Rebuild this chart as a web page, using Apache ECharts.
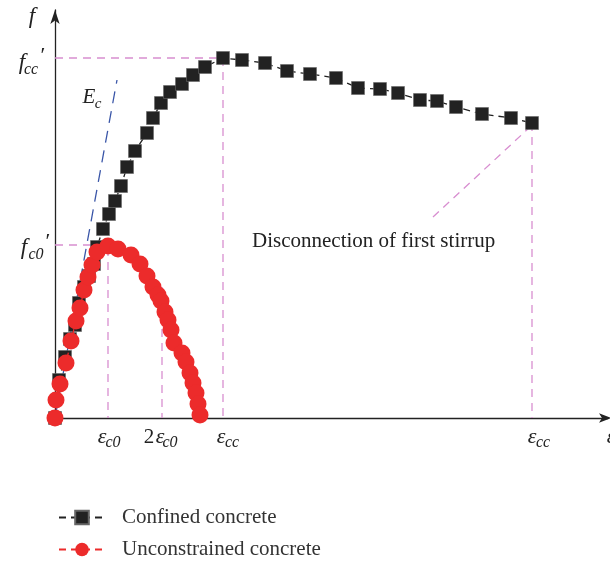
<!DOCTYPE html>
<html>
<head>
<meta charset="utf-8">
<script src="https://cdn.jsdelivr.net/npm/echarts@6/dist/echarts.min.js"></script>
<style>
html,body{margin:0;padding:0;background:#fff;}
#c{width:610px;height:563px;}
</style>
</head>
<body>
<div id="c"></div>
<script>
// Strain (x) and stress (y) in arbitrary chart units
const confinedX = [0,4,10,15,20,24,29,34,39,42,48,54,60,66,72,80,92,98,106,115,127,138,150,168,187,210,232,255,281,303,325,343,365,382,401,427,456,477];
const confinedY = [0,38,61,79,93,115,131,142,154,171,189,204,217,232,251,267,285,300,315,326,334,343,351,360,358,355,347,344,340,330,329,325,318,317,311,304,300,295];
const unconfX = [0,1,5,11,16,21,25,29,33,37,42,53,63,76,85,92,98,103,106,110,113,116,119,127,131,135,138,141,143,145];
const unconfY = [0,18,34,55,77,97,110,128,141,153,166,172,169,163,154,142,131,123,117,106,98,88,75,65,56,45,35,25,14,3];

// key points
const epsC0 = 53, fC0 = 173;
const eps2C0 = 107, fAt2C0 = 131;
const epsCC = 168, fCC = 360;
const epsCCu = 477, fCCu = 295;
const EcEnd = [62, 338];
const noteLine = [[378, 201], [475, 291]];

const seriesNames = ['Confined concrete', 'Unconstrained concrete'];

const pink = '#d88ed0';
const serif = '"Liberation Serif", "Times New Roman", serif';

function pairs(xs, ys) { return xs.map((x, i) => [x, ys[i]]); }
function guide(data, color, dash) {
  return {
    type: 'line', data: data, symbol: 'none', silent: true, z: 1,
    lineStyle: { color: color || pink, width: 1.3, type: dash || [8, 6] },
    animation: false
  };
}
function legendItem(name, top) {
  return {
    data: [name], orient: 'vertical', left: 53, top: top,
    itemWidth: 46, itemHeight: 17,
    textStyle: { fontFamily: serif, fontSize: 21, color: '#333', padding: [0, 0, 0, 12] }
  };
}

const chart = echarts.init(document.getElementById('c'), null, { renderer: 'canvas' });
chart.setOption({
  animation: false,
  backgroundColor: '#fff',
  grid: { left: 55, right: 2, top: 10, bottom: 145 },
  xAxis: {
    type: 'value', min: 0, max: 553,
    axisLine: { show: true, onZero: false, symbol: ['none', 'arrow'], symbolSize: [7, 12], symbolOffset: [0, 3],
      lineStyle: { color: '#222', width: 1.3 } },
    axisTick: { show: false }, axisLabel: { show: false }, splitLine: { show: false }
  },
  yAxis: {
    type: 'value', min: 0, max: 408,
    axisLine: { show: true, onZero: false, symbol: ['none', 'arrow'], symbolSize: [7, 14], symbolOffset: [0, 0],
      lineStyle: { color: '#222', width: 1.3 } },
    axisTick: { show: false }, axisLabel: { show: false }, splitLine: { show: false }
  },
  legend: [legendItem(seriesNames[0], 502), legendItem(seriesNames[1], 534)],
  series: [
    guide([[0, fCC], [epsCC, fCC], [epsCC, 0]]),
    guide([[0, fC0], [epsC0, fC0], [epsC0, 0]]),
    guide([[eps2C0, fAt2C0], [eps2C0, 0]]),
    guide([[epsCCu, fCCu], [epsCCu, 0]]),
    guide(noteLine),
    guide([[0, 0], EcEnd], '#3a56a8', [12, 8]),
    {
      name: seriesNames[0], type: 'line', data: pairs(confinedX, confinedY), z: 3,
      symbol: 'rect', symbolSize: 13,
      itemStyle: { color: '#222', borderColor: '#666', borderWidth: 0.6 },
      lineStyle: { color: '#222', width: 1.3, type: [7, 5] }
    },
    {
      name: seriesNames[1], type: 'line', data: pairs(unconfX, unconfY), z: 4,
      symbol: 'circle', symbolSize: 17,
      itemStyle: { color: '#ec2b2b' },
      lineStyle: { color: '#ec2b2b', width: 1.3, type: [7, 5] }
    }
  ]
});

function P(x, y) { return chart.convertToPixel({ gridIndex: 0 }, [x, y]); }
function T(px, py, text, size, italic, align) {
  return {
    type: 'text', z: 10, silent: true,
    style: {
      x: px, y: py, text: text, fill: '#222',
      font: (italic ? 'italic ' : '') + size + 'px ' + serif,
      textAlign: align || 'center', textVerticalAlign: 'middle'
    }
  };
}
const els = [];
const o = P(0, 0);
// y-axis name
els.push(T(32, 17, 'f', 23, true));
// f_cc'
let p = P(0, fCC);
els.push(T(22, p[1] + 5, 'f', 23, true));
els.push(T(31, p[1] + 12, 'cc', 16, true));
els.push(T(43, p[1] - 2, '\u2032', 22, false));
// f_c0'
p = P(0, fC0);
els.push(T(24, p[1] + 3, 'f', 23, true));
els.push(T(36, p[1] + 10, 'c0', 16, true));
els.push(T(48, p[1] - 3, '\u2032', 22, false));
// E_c
p = P(EcEnd[0], EcEnd[1]);
els.push(T(p[0] - 28, p[1] + 17, 'E', 21, true));
els.push(T(p[0] - 19, p[1] + 24, 'c', 15, true));
// x labels
const ly = o[1] + 19;
p = P(epsC0, 0);
els.push(T(p[0] - 6, ly, '\u03b5', 22, true));
els.push(T(p[0] + 5, ly + 6, 'c0', 16, true));
p = P(eps2C0, 0);
els.push(T(p[0] - 13, ly, '2', 21, false));
els.push(T(p[0] - 2, ly, '\u03b5', 22, true));
els.push(T(p[0] + 8, ly + 6, 'c0', 16, true));
p = P(epsCC, 0);
els.push(T(p[0] - 2, ly, '\u03b5', 22, true));
els.push(T(p[0] + 9, ly + 6, 'cc', 16, true));
p = P(epsCCu, 0);
els.push(T(p[0], ly, '\u03b5', 22, true));
els.push(T(p[0] + 11, ly + 6, 'cc', 16, true));
els.push(T(611, ly, '\u03b5', 22, true));
// annotation
els.push(T(252, 241, 'Disconnection of first stirrup', 21, false, 'left'));
chart.setOption({ graphic: { elements: els } });
</script>
</body>
</html>
